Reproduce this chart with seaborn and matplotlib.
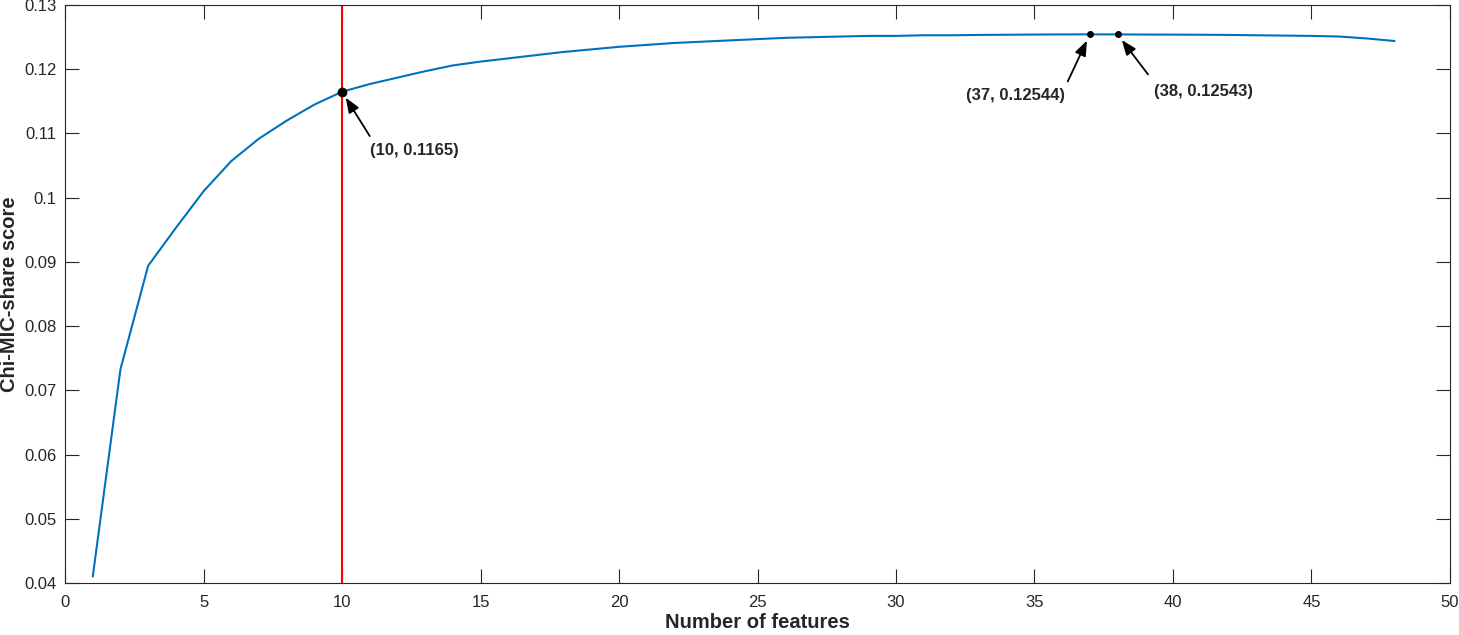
import numpy as np
import pandas as pd
import seaborn as sns
import matplotlib
matplotlib.use("Agg")
import matplotlib.pyplot as plt

# number of selected features vs. score
n_features = list(range(1, 49))
scores = [0.0410, 0.0733, 0.0894, 0.0953, 0.1010, 0.1057, 0.1092, 0.1120,
          0.1145, 0.1165, 0.1177, 0.1187, 0.1197, 0.1206, 0.1212, 0.1217,
          0.1222, 0.1227, 0.1231, 0.1235, 0.1238, 0.1241, 0.1243, 0.1245,
          0.1247, 0.1249, 0.1250, 0.1251, 0.1252, 0.1252, 0.1253, 0.1253,
          0.12535, 0.12538, 0.12541, 0.12543, 0.12544, 0.12543, 0.12541, 0.1254,
          0.12538, 0.12535, 0.1253, 0.12525, 0.1252, 0.1251, 0.1248, 0.1244]

chosen_k = 10
marked_x = [10, 37, 38]
marked_y = [0.1165, 0.12544, 0.12543]
marked_labels = ["(10, 0.1165)", "(37, 0.12544)", "(38, 0.12543)"]

df = pd.DataFrame({"features": n_features, "score": scores})

sns.set_style("ticks")
plt.rcParams["font.family"] = ["Liberation Sans", "DejaVu Sans"]

fig = plt.figure(figsize=(14.59, 6.35), dpi=100)
ax = fig.add_axes([0.0446, 0.082, 0.9492, 0.910])

sns.lineplot(data=df, x="features", y="score", ax=ax, color="#0072BD", linewidth=1.5)
ax.axvline(chosen_k, color="red", linewidth=1.5, zorder=1)

# marked points
ax.plot(marked_x[0], marked_y[0], "o", color="black", markersize=6, zorder=5)
ax.plot(marked_x[1:], marked_y[1:], "o", color="black", markersize=4, linestyle="none", zorder=5)

arrow = dict(arrowstyle="-|>,head_length=0.9,head_width=0.35", color="black", lw=1.3,
             shrinkA=0, shrinkB=5)
# (tail x, tail y) and (text x, text y) for each label
tails = [(11.0, 0.1096), (36.2, 0.1181), (39.1, 0.1192)]
text_pos = [(11.0, 0.1073), (34.3, 0.1159), (41.1, 0.1165)]
for px, py, lab, t, tp in zip(marked_x, marked_y, marked_labels, tails, text_pos):
    ax.annotate("", xy=(px, py), xytext=t, arrowprops=arrow)
    ha = "left" if lab.startswith("(10") else "center"
    ax.text(tp[0], tp[1], lab, ha=ha, va="center", fontsize=12, fontweight="bold")

ax.set_xlim(0, 50)
ax.set_ylim(0.04, 0.13)
ax.set_xticks(np.arange(0, 51, 5))
yt = np.round(np.arange(0.04, 0.1301, 0.01), 2)
ax.set_yticks(yt)
ax.set_yticklabels(["%g" % v for v in yt])
ax.tick_params(direction="in", length=10, width=0.8, top=True, right=True,
               labelsize=12, colors="#262626")
ax.tick_params(axis="x", pad=9)
ax.tick_params(axis="y", pad=6)
for s in ax.spines.values():
    s.set_color("#262626")
    s.set_linewidth(0.8)

ax.set_xlabel("Number of features", fontsize=14.5, fontweight="bold", labelpad=2)
ax.set_ylabel("Chi-MIC-share score", fontsize=14.5, fontweight="bold", labelpad=4)

fig.savefig("out.png", dpi=100)
